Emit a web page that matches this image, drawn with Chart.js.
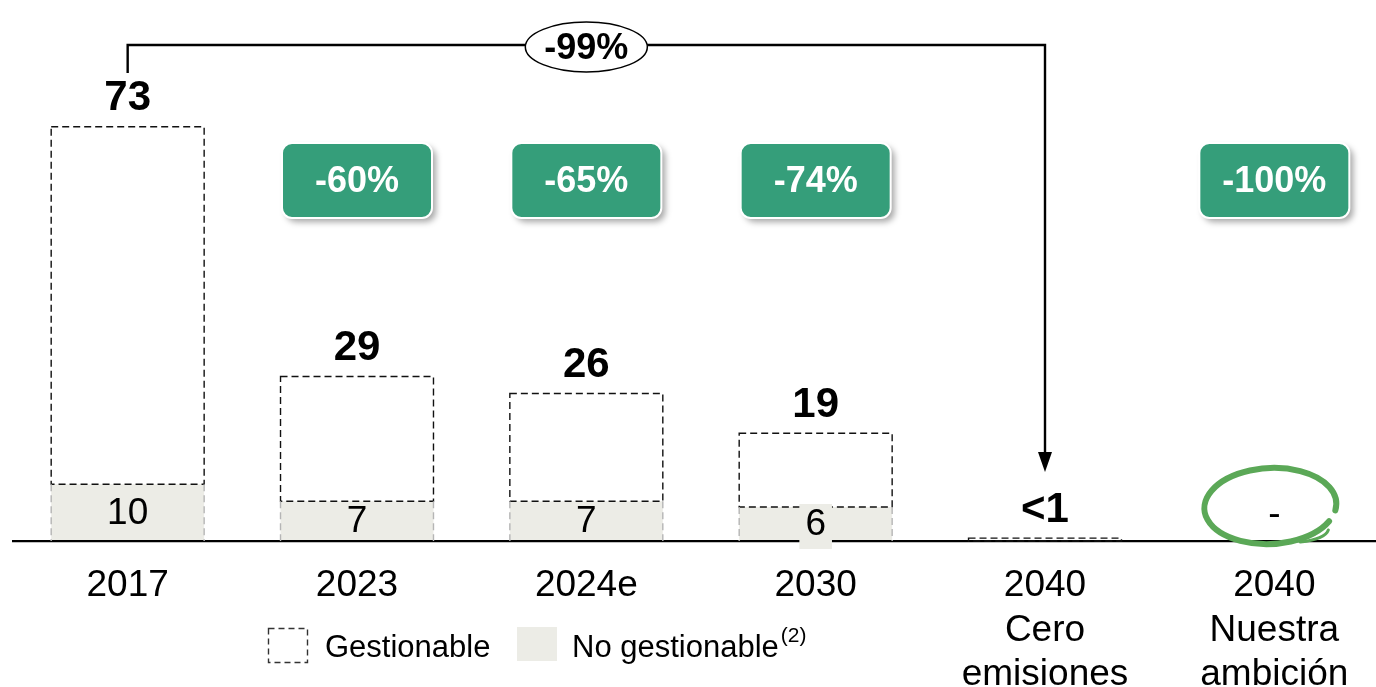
<!DOCTYPE html>
<html>
<head>
<meta charset="utf-8">
<script src="https://cdn.jsdelivr.net/npm/chart.js@4/dist/chart.umd.min.js"></script>
<style>
  html, body { margin: 0; padding: 0; background: #fff; overflow: hidden; }
  #wrap { position: absolute; left: 0; top: 0; width: 1392px; height: 687px; }
</style>
</head>
<body>
<div id="wrap"><canvas id="emisChart" width="1392" height="687"></canvas></div>
<script>
const categories = [["2017"], ["2023"], ["2024e"], ["2030"], ["2040", "Cero", "emisiones"], ["2040", "Nuestra", "ambición"]];
const noGestionable = [10, 7, 7, 6, 0, 0];
const gestionable = [63, 22, 19, 13, 0.5, 0];
const reductions = [null, "-60%", "-65%", "-74%", null, "-100%"];
const overallReduction = "-99%";

const GRAY = "#ECECE6";
const BADGE = "#359E7A";
const FONT = "'Liberation Sans', Arial, sans-serif";

const annotations = {
  id: "annotations",
  afterDraw(chart) {
    const ctx = chart.ctx;
    const grayMeta = chart.getDatasetMeta(0);
    const gestMeta = chart.getDatasetMeta(1);
    const xs = chart.scales.x;
    const ys = chart.scales.y;
    ctx.save();

    // dashed outlines of the gestionable part
    gestMeta.data.forEach((bar, i) => {
      if (gestionable[i] <= 0) return;
      const left = bar.x - bar.width / 2, right = bar.x + bar.width / 2;
      ctx.setLineDash([7, 4]);
      ctx.lineWidth = 1.4;
      ctx.strokeStyle = "#111";
      ctx.strokeRect(left, bar.y, right - left, bar.base - bar.y);
      // faint dashes down the grey part
      if (noGestionable[i] > 0) {
        ctx.strokeStyle = "#b5b5b5";
        ctx.beginPath();
        ctx.moveTo(left, bar.base); ctx.lineTo(left, ys.getPixelForValue(0));
        ctx.moveTo(right, bar.base); ctx.lineTo(right, ys.getPixelForValue(0));
        ctx.stroke();
      }
    });
    ctx.setLineDash([]);

    // grey values (small segments get their own label box)
    ctx.textAlign = "center";
    ctx.textBaseline = "middle";
    grayMeta.data.forEach((bar, i) => {
      if (noGestionable[i] <= 0) return;
      const segH = bar.base - bar.y;
      const cy = (bar.y + bar.base) / 2 + 1;
      ctx.font = "37px " + FONT;
      const txt = String(noGestionable[i]);
      if (segH < 36) {
        const w = ctx.measureText(txt).width;
        ctx.fillStyle = GRAY;
        ctx.fillRect(bar.x - w / 2 - 6, cy - 21, w + 12, 45);
      }
      ctx.fillStyle = "#000";
      ctx.fillText(txt, bar.x, cy);
    });

    // totals
    categories.forEach((c, i) => {
      const total = noGestionable[i] + gestionable[i];
      const x = xs.getPixelForValue(i);
      if (total === 0) {
        ctx.font = "37px " + FONT;
        ctx.fillStyle = "#000";
        ctx.fillText("-", x, ys.getPixelForValue(0) - 26);
        return;
      }
      const label = total < 1 ? "<1" : String(total);
      ctx.font = "bold 42px " + FONT;
      ctx.fillStyle = "#000";
      ctx.fillText(label, x, ys.getPixelForValue(total) - 28);
    });

    // green badges
    reductions.forEach((r, i) => {
      if (!r) return;
      const x = xs.getPixelForValue(i);
      const w = 150, h = 75, top = 143;
      ctx.save();
      ctx.shadowColor = "rgba(0,0,0,0.35)";
      ctx.shadowBlur = 6;
      ctx.shadowOffsetX = 4;
      ctx.shadowOffsetY = 4;
      ctx.beginPath();
      ctx.roundRect(x - w / 2, top, w, h, 10);
      ctx.fillStyle = BADGE;
      ctx.fill();
      ctx.restore();
      ctx.beginPath();
      ctx.roundRect(x - w / 2, top, w, h, 10);
      ctx.lineWidth = 2;
      ctx.strokeStyle = "#fff";
      ctx.stroke();
      ctx.font = "bold 36px " + FONT;
      ctx.fillStyle = "#fff";
      ctx.fillText(r, x, top + h / 2 + 2);
    });

    // bracket 2017 -> 2040
    const x0 = xs.getPixelForValue(0);
    const x4 = xs.getPixelForValue(4);
    const lineY = 45;
    const tipY = 472;
    ctx.strokeStyle = "#000";
    ctx.lineWidth = 2.4;
    ctx.beginPath();
    ctx.moveTo(x0, 73);
    ctx.lineTo(x0, lineY);
    ctx.lineTo(x4, lineY);
    ctx.lineTo(x4, tipY - 18);
    ctx.stroke();
    ctx.fillStyle = "#000";
    ctx.beginPath();
    ctx.moveTo(x4 - 7, tipY - 20);
    ctx.lineTo(x4 + 7, tipY - 20);
    ctx.lineTo(x4, tipY);
    ctx.closePath();
    ctx.fill();

    // ellipse label on the bracket
    const ex = xs.getPixelForValue(2);
    ctx.beginPath();
    ctx.ellipse(ex, 47, 61, 25, 0, 0, Math.PI * 2);
    ctx.fillStyle = "#fff";
    ctx.fill();
    ctx.lineWidth = 1.5;
    ctx.stroke();
    ctx.font = "bold 36px " + FONT;
    ctx.fillStyle = "#000";
    ctx.fillText(overallReduction, ex, 49);

    // green hand-drawn circle around the ambition value
    const gx = xs.getPixelForValue(5) - 4;
    ctx.strokeStyle = "#5BA857";
    ctx.lineCap = "round";
    ctx.lineWidth = 6;
    ctx.beginPath();
    ctx.ellipse(gx, 506, 66, 38, -0.05, 0.5, Math.PI * 2 + 0.2);
    ctx.stroke();
    ctx.lineWidth = 3;
    ctx.beginPath();
    ctx.moveTo(gx + 30, 542);
    ctx.quadraticCurveTo(gx + 55, 539, gx + 58, 530);
    ctx.stroke();

    // legend
    ctx.lineCap = "butt";
    ctx.setLineDash([6, 4]);
    ctx.lineWidth = 1.4;
    ctx.strokeStyle = "#333";
    ctx.strokeRect(268.5, 628.5, 39, 34);
    ctx.setLineDash([]);
    ctx.fillStyle = GRAY;
    ctx.fillRect(517, 627, 40, 34);
    ctx.fillStyle = "#000";
    ctx.textAlign = "left";
    ctx.font = "31px " + FONT;
    ctx.fillText("Gestionable", 325, 648);
    ctx.fillText("No gestionable", 572, 648);
    const nw = ctx.measureText("No gestionable").width;
    ctx.font = "21px " + FONT;
    ctx.fillText("(2)", 572 + nw + 2, 636);

    ctx.restore();
  }
};

new Chart(document.getElementById("emisChart").getContext("2d"), {
  type: "bar",
  data: {
    labels: categories,
    datasets: [
      {
        label: "No gestionable",
        data: noGestionable,
        backgroundColor: GRAY,
        borderWidth: 0,
      },
      {
        label: "Gestionable",
        data: gestionable,
        backgroundColor: "#ffffff",
        borderWidth: 0,
      },
    ],
  },
  options: {
    responsive: false,
    animation: false,
    layout: { padding: { left: 13, right: 3, top: 2, bottom: 0 } },
    categoryPercentage: 1,
    barPercentage: 0.667,
    plugins: {
      legend: { display: false },
      tooltip: { enabled: false },
    },
    scales: {
      x: {
        stacked: true,
        grid: { display: false, drawTicks: false },
        border: { display: true, color: "#000", width: 2.2, z: 1 },
        ticks: {
          color: "#000",
          padding: 23,
          maxRotation: 0,
          autoSkip: false,
          font: { family: FONT, size: 37, lineHeight: 1.2 },
        },
        afterFit(scale) { scale.height = 146; },
      },
      y: {
        stacked: true,
        display: false,
        min: 0,
        max: 95,
      },
    },
  },
  plugins: [annotations],
});
</script>
</body>
</html>
